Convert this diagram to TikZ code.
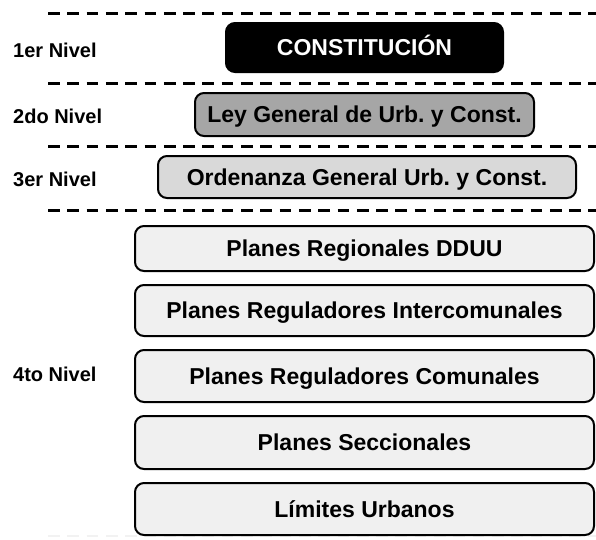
\documentclass[tikz,border=0pt]{standalone}
\usepackage{fontspec}
\setmainfont{Liberation Sans}
\usetikzlibrary{positioning}
\definecolor{leygray}{HTML}{A6A6A6}
\definecolor{ogugray}{HTML}{D9D9D9}
\definecolor{planfill}{HTML}{F0F0F0}
\definecolor{faint}{HTML}{F2F2F2}
\frenchspacing

\begin{document}
\begin{tikzpicture}[x=1pt, y=-1pt,
  every node/.style={font=\bfseries\fontsize{23}{27}\selectfont, inner sep=0pt, text height=16.5pt, text depth=0pt},
  norma/.style={draw, line width=2pt, rounded corners=9pt},
  nivel/.style={anchor=west, font=\bfseries\fontsize{20}{24}\selectfont, text height=14.3pt},
  plan/.style={norma, fill=planfill, minimum width=459pt},
  sep/.style={line width=3pt, dash pattern=on 11.7pt off 7.6pt}]
  \useasboundingbox (0,0) rectangle (596,539);
  \foreach \y in {13,83,146,210}
    \draw[sep] (48,\y) -- (596,\y);
  \draw[sep, faint, line width=2pt] (48,536) -- (596,536);

  \node[nivel] (n1) at (13,50) {1er Nivel};
  \node[nivel] (n2) at (13,116) {2do Nivel};
  \node[nivel] (n3) at (13,179) {3er Nivel};
  \node[nivel] (n4) at (13,374) {4to Nivel};

  \node[norma, fill=black, text=white, minimum width=277pt, minimum height=49pt] (cpr) at (364.5,47.5) {CONSTITUCIÓN};
  \node[norma, fill=leygray, minimum width=339pt, minimum height=43pt] (lgu) at (364.5,114.5) {Ley General de Urb. y Const.};
  \node[norma, fill=ogugray, minimum width=418pt, minimum height=42pt] (ogu) at (367,177) {Ordenanza General Urb. y Const.};

  \node[plan, minimum height=45pt] (prd) at (364.5,248.5) {Planes Regionales DDUU};
  \node[plan, minimum height=51pt, below=12pt of prd] (pri) {Planes Reguladores Intercomunales};
  \node[plan, minimum height=52pt, below=12pt of pri] (prc) {Planes Reguladores Comunales};
  \node[plan, minimum height=53pt, below=12pt of prc] (psc) {Planes Seccionales};
  \node[plan, minimum height=52pt, below=12pt of psc] (lim) {Límites Urbanos};
\end{tikzpicture}
\end{document}
